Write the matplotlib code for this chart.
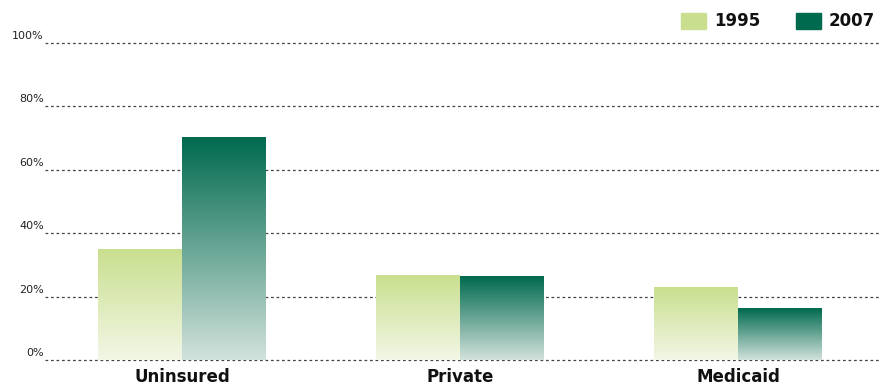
import numpy as np
import matplotlib.pyplot as plt
from matplotlib.colors import LinearSegmentedColormap
from matplotlib.patches import Rectangle

categories = ['Uninsured', 'Private', 'Medicaid']
years = ['1995', '2007']
values_1995 = [35.0, 26.8, 23.0]
values_2007 = [70.3, 26.2, 16.1]
yticks = [0, 20, 40, 60, 80, 100]

top_1995 = '#c9df8f'
top_2007 = '#006a4e'
bot_1995 = '#f3f7e6'
bot_2007 = '#d2e2dc'

fig = plt.figure(figsize=(8.9, 3.88), dpi=100)
ax = fig.add_axes([45 / 890, 28 / 388, 835 / 890, (360 - 43) / 388])

for t in yticks:
    ax.axhline(t, color='#444444', lw=0.9, ls=(0, (2.2, 2.2)), zorder=1, clip_on=False)
    ax.text(-0.497, t + 0.6, f'{t}%', ha='right', va='bottom', fontsize=8,
            color='#222222', transform=ax.transData, clip_on=False)

width = 0.302
grad = np.linspace(0, 1, 256).reshape(-1, 1)
cmaps = [LinearSegmentedColormap.from_list('c95', [bot_1995, top_1995]),
         LinearSegmentedColormap.from_list('c07', [bot_2007, top_2007])]

for j, vals in enumerate([values_1995, values_2007]):
    for i, v in enumerate(vals):
        x0 = i - width if j == 0 else i
        ax.imshow(grad, cmap=cmaps[j], aspect='auto', origin='lower',
                  extent=[x0, x0 + width, 0, v], zorder=2, interpolation='bilinear')

ax.set_xlim(-0.493, 2.511)
ax.set_ylim(0, 100)
ax.set_xticks(range(len(categories)))
ax.set_xticklabels(categories, fontsize=12, fontweight='bold', color='#111111')
ax.tick_params(axis='x', length=0, pad=6)
ax.set_yticks([])
for s in ax.spines.values():
    s.set_visible(False)

# legend
for k, (lab, c, x) in enumerate(zip(years, [top_1995, top_2007], [681, 796])):
    fig.patches.append(Rectangle((x / 890, 1 - 29 / 388), 25 / 890, 16 / 388,
                                 transform=fig.transFigure, color=c))
    fig.text((x + 33) / 890, 1 - 21 / 388, lab, fontsize=12, fontweight='bold',
             va='center', ha='left', color='#111111')

fig.savefig('out.png', dpi=100)
